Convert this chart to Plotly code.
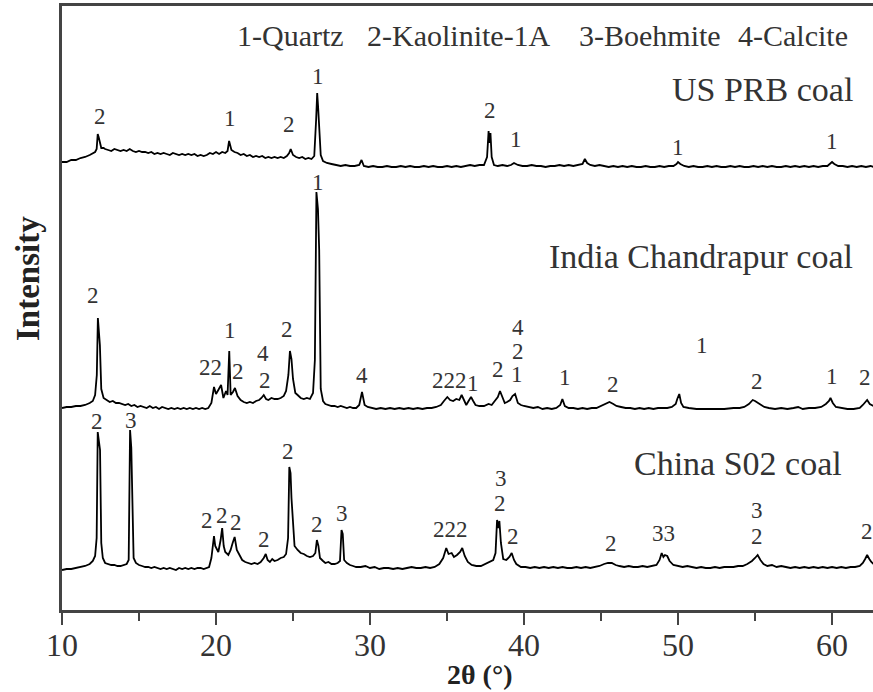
import plotly.graph_objects as go

# ---------------------------------------------------------------
# XRD patterns of three coals: (2θ in degrees, intensity in a.u.)
# Intensities are relative to each pattern's own baseline; the
# patterns are stacked with a vertical offset.
# ---------------------------------------------------------------
us_pattern = [
    (10.0, 5), (10.3, 5), (10.6, 7), (10.9, 7), (11.2, 9), (11.5, 10), (11.8, 12), (12.0, 14), (12.15, 15),
    (12.25, 18), (12.32, 33), (12.38, 30), (12.45, 24), (12.55, 19), (12.7, 19), (12.8, 18), (13.0, 17),
    (13.2, 16), (13.4, 18), (13.6, 17), (13.8, 16), (14.0, 17), (14.2, 16), (14.4, 18), (14.6, 16), (14.8, 15),
    (15.0, 16), (15.2, 15), (15.4, 15), (15.6, 14), (15.8, 15), (16.0, 13), (16.2, 14), (16.4, 13), (16.6, 14),
    (16.8, 13), (17.0, 12), (17.2, 14), (17.4, 13), (17.6, 12), (17.8, 13), (18.0, 12), (18.2, 13), (18.4, 12),
    (18.6, 13), (18.8, 11), (19.0, 12), (19.2, 11), (19.4, 12), (19.6, 14), (19.8, 13), (20.0, 15), (20.2, 13),
    (20.4, 15), (20.6, 14), (20.75, 16), (20.85, 26), (21.0, 17), (21.2, 15), (21.4, 14), (21.6, 12), (21.8, 13),
    (22.0, 11), (22.2, 12), (22.4, 10), (22.6, 11), (22.8, 10), (23.0, 11), (23.2, 9), (23.4, 10), (23.6, 9),
    (23.8, 10), (24.0, 9), (24.2, 10), (24.4, 9), (24.6, 11), (24.75, 14), (24.85, 18), (25.0, 12), (25.2, 10),
    (25.4, 9), (25.6, 10), (25.8, 8), (26.0, 9), (26.2, 8), (26.38, 11), (26.5, 47), (26.57, 74), (26.63, 60),
    (26.7, 42), (26.8, 12), (26.95, 6), (27.2, 4), (27.5, 3), (27.8, 2), (28.1, 1), (28.4, 2), (28.7, 1),
    (29.0, 1), (29.3, 2), (29.45, 7), (29.6, 1), (29.9, 0), (30.2, 1), (30.5, 0), (30.8, 0), (31.1, 1),
    (31.4, 0), (31.7, 0), (32.0, 1), (32.3, 0), (32.6, 1), (32.9, 0), (33.2, 0), (33.5, 1), (33.8, 0),
    (34.1, 1), (34.4, 0), (34.7, 0), (35.0, 1), (35.3, 0), (35.6, 1), (35.9, 0), (36.2, 1), (36.5, 2),
    (36.8, 1), (37.1, 2), (37.4, 2), (37.6, 10), (37.7, 36), (37.76, 24), (37.82, 34), (37.9, 10), (38.05, 2),
    (38.3, 1), (38.6, 2), (38.9, 1), (39.15, 2), (39.35, 4), (39.6, 2), (39.9, 1), (40.2, 1), (40.5, 2),
    (40.8, 1), (41.1, 1), (41.4, 0), (41.7, 1), (42.0, 1), (42.3, 2), (42.6, 1), (42.9, 2), (43.2, 1),
    (43.5, 2), (43.8, 3), (43.95, 8), (44.1, 4), (44.3, 2), (44.6, 1), (44.9, 2), (45.2, 1), (45.5, 0),
    (45.8, 1), (46.1, 0), (46.4, 1), (46.7, 0), (47.0, 1), (47.3, 0), (47.6, 0), (47.9, 1), (48.2, 0),
    (48.5, 0), (48.8, 1), (49.1, 0), (49.4, 1), (49.7, 1), (49.9, 3), (50.0, 5), (50.15, 3), (50.4, 1),
    (50.7, 0), (51.0, 1), (51.3, 0), (51.6, 0), (51.9, 1), (52.2, 0), (52.5, 1), (52.8, 0), (53.1, 0),
    (53.4, 1), (53.7, 0), (54.0, 1), (54.3, 0), (54.6, 0), (54.9, 1), (55.2, 0), (55.5, 1), (55.8, 0),
    (56.1, 1), (56.4, 0), (56.7, 0), (57.0, 1), (57.3, 0), (57.6, 1), (57.9, 0), (58.2, 1), (58.5, 0),
    (58.8, 1), (59.1, 0), (59.4, 1), (59.7, 1), (59.9, 4), (60.0, 5), (60.15, 3), (60.4, 1), (60.7, 1),
    (61.0, 0), (61.3, 1), (61.6, 0), (61.9, 1), (62.2, 0), (62.5, 1), (62.7, 0),
]

india_pattern = [
    (10.0, 1), (10.3, 2), (10.6, 2), (10.9, 3), (11.2, 3), (11.5, 4), (11.8, 6), (12.0, 8), (12.15, 14),
    (12.26, 34), (12.33, 91), (12.4, 75), (12.46, 64), (12.55, 20), (12.7, 11), (12.9, 9), (13.1, 7),
    (13.3, 8), (13.5, 6), (13.7, 6), (13.9, 5), (14.1, 4), (14.3, 5), (14.5, 3), (14.7, 4), (14.9, 2),
    (15.1, 3), (15.3, 2), (15.5, 1), (15.7, 3), (15.9, 1), (16.1, 2), (16.3, 0), (16.5, 2), (16.7, 1),
    (16.9, 0), (17.1, 1), (17.3, 0), (17.5, 1), (17.7, 0), (17.9, 1), (18.1, 0), (18.3, 1), (18.5, 0),
    (18.7, 1), (18.9, 0), (19.1, 1), (19.3, 0), (19.5, 1), (19.7, 6), (19.87, 22), (20.0, 15), (20.15, 19),
    (20.33, 24), (20.48, 11), (20.65, 18), (20.75, 14), (20.86, 58), (20.95, 14), (21.1, 17), (21.23, 21),
    (21.4, 13), (21.6, 9), (21.8, 7), (22.0, 6), (22.2, 7), (22.4, 6), (22.6, 8), (22.8, 9), (22.95, 11),
    (23.1, 14), (23.25, 10), (23.4, 9), (23.6, 11), (23.8, 10), (24.0, 10), (24.2, 11), (24.4, 13),
    (24.55, 18), (24.7, 34), (24.8, 58), (24.9, 50), (25.0, 30), (25.15, 16), (25.3, 14), (25.5, 11),
    (25.7, 10), (25.9, 11), (26.1, 10), (26.3, 16), (26.42, 49), (26.52, 217), (26.62, 200), (26.7, 159),
    (26.8, 20), (26.95, 8), (27.1, 5), (27.3, 4), (27.5, 3), (27.7, 3), (27.9, 2), (28.1, 3), (28.3, 2),
    (28.5, 1), (28.7, 2), (28.9, 1), (29.1, 1), (29.3, 4), (29.48, 17), (29.65, 4), (29.85, 2), (30.1, 1),
    (30.4, 0), (30.7, 1), (31.0, 0), (31.3, 1), (31.6, 0), (31.9, 1), (32.2, 0), (32.5, 1), (32.8, 0),
    (33.1, 1), (33.4, 0), (33.7, 1), (34.0, 1), (34.3, 2), (34.6, 4), (34.8, 8), (35.02, 12), (35.2, 9),
    (35.4, 8), (35.6, 10), (35.8, 9), (35.95, 14), (36.1, 8), (36.25, 4), (36.4, 8), (36.56, 12), (36.7, 8),
    (36.85, 4), (37.1, 3), (37.4, 3), (37.7, 5), (37.9, 4), (38.1, 8), (38.3, 12), (38.44, 18), (38.6, 12),
    (38.75, 6), (38.9, 7), (39.1, 9), (39.25, 13), (39.42, 15), (39.6, 6), (39.8, 4), (40.0, 3), (40.3, 2),
    (40.6, 1), (40.9, 2), (41.2, 0), (41.5, 1), (41.8, 0), (42.1, 1), (42.35, 4), (42.49, 10), (42.65, 3),
    (42.9, 1), (43.2, 1), (43.5, 0), (43.8, 1), (44.1, 0), (44.4, 1), (44.7, 1), (45.0, 3), (45.3, 5),
    (45.55, 7), (45.8, 5), (46.0, 3), (46.3, 2), (46.6, 1), (46.9, 1), (47.2, 0), (47.5, 1), (47.8, 0),
    (48.1, 1), (48.4, 0), (48.7, 1), (49.0, 1), (49.3, 1), (49.6, 2), (49.85, 5), (49.95, 10), (50.08, 15),
    (50.2, 6), (50.35, 2), (50.7, 1), (51.2, 0), (51.8, 0), (52.4, 0), (53.0, 0), (53.6, 1), (54.0, 1),
    (54.3, 2), (54.6, 5), (54.85, 9), (55.0, 8), (55.3, 5), (55.6, 2), (55.9, 1), (56.3, 0), (56.7, 1),
    (57.1, 0), (57.5, 1), (57.8, 2), (58.1, 0), (58.5, 1), (58.9, 1), (59.3, 2), (59.6, 5), (59.8, 8),
    (59.9, 11), (60.05, 6), (60.25, 2), (60.6, 1), (61.0, 0), (61.4, 0), (61.8, 1), (62.0, 4), (62.15, 7),
    (62.28, 9), (62.45, 5), (62.7, 3),
]

china_pattern = [
    (10.0, -2), (10.3, -1), (10.6, -1), (10.9, 0), (11.2, 1), (11.5, 2), (11.8, 4), (12.0, 7), (12.15, 12),
    (12.25, 30), (12.32, 136), (12.4, 125), (12.47, 118), (12.55, 25), (12.65, 10), (12.8, 5), (13.0, 4),
    (13.2, 3), (13.4, 3), (13.6, 2), (13.8, 2), (14.0, 3), (14.2, 4), (14.33, 8), (14.42, 138), (14.5, 120),
    (14.56, 60), (14.65, 10), (14.8, 5), (15.0, 3), (15.2, 2), (15.4, 1), (15.6, 1), (15.8, 0), (16.0, 1),
    (16.2, 0), (16.4, -1), (16.6, 0), (16.8, -1), (17.0, 0), (17.2, -1), (17.4, -2), (17.6, 0), (17.8, -1),
    (18.0, 0), (18.2, -1), (18.4, 0), (18.6, -1), (18.8, 0), (19.0, 0), (19.2, -1), (19.4, 0), (19.55, 1),
    (19.7, 10), (19.87, 32), (19.95, 22), (20.05, 18), (20.15, 16), (20.3, 28), (20.4, 40), (20.5, 22),
    (20.6, 16), (20.8, 13), (20.95, 18), (21.08, 25), (21.21, 31), (21.35, 18), (21.5, 14), (21.7, 8),
    (21.9, 6), (22.1, 5), (22.3, 4), (22.5, 5), (22.7, 4), (22.9, 6), (23.1, 10), (23.23, 14), (23.35, 8),
    (23.5, 6), (23.65, 9), (23.8, 7), (24.0, 8), (24.2, 10), (24.4, 11), (24.55, 14), (24.68, 30),
    (24.76, 101), (24.84, 95), (24.9, 70), (24.98, 45), (25.1, 22), (25.3, 18), (25.5, 15), (25.7, 14),
    (25.9, 12), (26.1, 11), (26.3, 12), (26.45, 15), (26.55, 28), (26.65, 22), (26.75, 10), (26.95, 7),
    (27.1, 5), (27.3, 6), (27.5, 4), (27.7, 4), (27.9, 5), (28.05, 7), (28.15, 38), (28.23, 34), (28.32, 8),
    (28.5, 5), (28.7, 3), (28.9, 2), (29.1, 1), (29.4, 1), (29.7, 2), (30.0, 0), (30.3, 1), (30.6, -1),
    (30.9, 0), (31.2, 0), (31.5, -1), (31.8, 0), (32.1, -1), (32.4, 0), (32.7, 1), (33.0, 0), (33.3, 0),
    (33.6, 1), (33.9, 0), (34.2, 1), (34.5, 4), (34.75, 10), (34.95, 20), (35.1, 14), (35.3, 15), (35.45, 11),
    (35.65, 13), (35.85, 16), (35.99, 20), (36.15, 12), (36.35, 6), (36.6, 3), (36.9, 2), (37.2, 2),
    (37.5, 4), (37.8, 6), (38.0, 8), (38.15, 15), (38.25, 48), (38.33, 40), (38.4, 47), (38.5, 25),
    (38.65, 9), (38.85, 8), (39.05, 11), (39.2, 15), (39.35, 8), (39.5, 4), (39.8, 1), (40.1, 1), (40.4, 0),
    (40.7, 1), (41.0, 0), (41.3, 1), (41.6, 0), (41.9, 1), (42.2, 0), (42.5, 1), (42.8, 0), (43.1, 0),
    (43.4, 1), (43.7, 0), (44.0, 1), (44.3, 0), (44.6, 1), (44.9, 2), (45.2, 4), (45.45, 5), (45.7, 5),
    (45.95, 3), (46.2, 2), (46.5, 1), (46.8, 2), (47.1, 1), (47.4, 1), (47.7, 2), (48.0, 1), (48.3, 2),
    (48.6, 3), (48.8, 8), (48.94, 15), (49.05, 11), (49.15, 13), (49.3, 12), (49.45, 7), (49.7, 3),
    (50.0, 2), (50.3, 1), (50.6, 2), (50.9, 1), (51.2, 0), (51.5, 1), (51.8, 0), (52.1, 0), (52.4, 1),
    (52.7, 0), (53.0, 1), (53.3, 1), (53.6, 1), (53.9, 2), (54.2, 2), (54.5, 4), (54.8, 7), (55.0, 10),
    (55.17, 13), (55.35, 8), (55.55, 4), (55.8, 2), (56.1, 3), (56.4, 1), (56.7, 2), (57.0, 1), (57.3, 0),
    (57.6, 1), (57.9, 0), (58.2, 1), (58.5, 0), (58.8, 1), (59.1, 0), (59.4, 1), (59.7, 0), (60.0, 1),
    (60.3, 0), (60.6, 1), (60.9, 0), (61.2, 1), (61.5, 1), (61.8, 2), (62.0, 5), (62.15, 9), (62.28, 13),
    (62.42, 9), (62.55, 6), (62.7, 4),
]

# vertical stacking offsets for the three patterns
offsets = {"us": 443, "india": 201, "china": 42}

# phase labels: (2θ, height above the pattern baseline, phase number)
us_labels = [(12.44, 50.5, "2"), (20.9, 48.5, "1"), (24.77, 42.5, "2"), (26.62, 91, "1"),
             (37.76, 57, "2"), (39.48, 28, "1"), (50.0, 20, "1"), (59.97, 25.5, "1")]
india_labels = [(12.03, 113.7, "2"), (19.66, 41.5, "22"), (20.93, 79, "1"), (21.4, 37.3, "2"),
                (23.08, 55.7, "4"), (23.18, 29, "2"), (24.63, 80, "2"), (26.62, 227, "1"),
                (29.46, 34, "4"), (35.19, 29, "222"), (36.69, 26, "1"), (38.28, 40, "2"),
                (39.63, 81.5, "4"), (39.59, 58, "2"), (39.55, 34.5, "1"), (42.68, 31.7, "1"),
                (45.8, 25, "2"), (51.54, 64, "1"), (55.13, 28, "2"), (60.02, 33, "1"), (62.14, 32, "2")]
china_labels = [(12.25, 146.3, "2"), (14.48, 148, "3"), (19.44, 47.5, "2"), (20.37, 53, "2"),
                (21.3, 45.7, "2"), (23.12, 29, "2"), (24.66, 116.3, "2"), (26.58, 44, "2"),
                (28.16, 54.7, "3"), (35.25, 39, "222"), (38.51, 90, "3"), (38.44, 65, "2"),
                (39.29, 31.3, "2"), (45.65, 25, "2"), (49.05, 35, "33"), (55.11, 58, "3"),
                (55.11, 32, "2"), (62.25, 36.3, "2")]

sample_names = ["US PRB coal", "India Chandrapur coal", "China S02 coal"]
phase_key = ["1-Quartz", "2-Kaolinite-1A", "3-Boehmite", "4-Calcite"]
x_ticks = [10, 20, 30, 40, 50, 60]

SERIF = "Liberation Serif"
TXT = "#333333"

fig = go.Figure()
patterns = [("us", us_pattern), ("india", india_pattern), ("china", china_pattern)]
for key, pattern in patterns:
    theta = [p[0] for p in pattern]
    inten = [p[1] + offsets[key] for p in pattern]
    fig.add_trace(go.Scatter(
        x=theta, y=inten, mode="lines",
        line=dict(color="black", width=1.8), showlegend=False, hoverinfo="skip"))

annotations = []
for key, labels in (("us", us_labels), ("india", india_labels), ("china", china_labels)):
    for th, h, txt in labels:
        annotations.append(dict(x=th, y=offsets[key] + h, xref="x", yref="y", text=txt,
                                showarrow=False, font=dict(family=SERIF, size=23, color=TXT)))

# sample names, right-aligned inside the frame
for name, (xr, yr) in zip(sample_names, [(61.49, 521), (61.49, 354), (60.78, 147)]):
    annotations.append(dict(x=xr, y=yr, xref="x", yref="y", text=name, showarrow=False,
                            xanchor="right", yanchor="middle",
                            font=dict(family=SERIF, size=34, color=TXT)))

# phase key along the top
for txt, xl in zip(phase_key, [21.23, 29.67, 43.44, 53.76]):
    annotations.append(dict(x=xl, y=575, xref="x", yref="y", text=txt, showarrow=False,
                            xanchor="left", yanchor="middle",
                            font=dict(family=SERIF, size=30, color=TXT)))

# axis titles
annotations.append(dict(x=0.5154, y=-0.1076, xref="paper", yref="paper", text="<b>2θ (°)</b>",
                        showarrow=False, xanchor="center", yanchor="middle",
                        font=dict(family=SERIF, size=28, color="#222")))
annotations.append(dict(x=-0.0419, y=0.548, xref="paper", yref="paper", text="<b>Intensity</b>",
                        showarrow=False, textangle=-90, xanchor="center", yanchor="middle",
                        font=dict(family=SERIF, size=33, color="#222")))

fig.update_layout(
    width=873, height=692,
    margin=dict(l=62, r=0, t=6, b=82),
    paper_bgcolor="white", plot_bgcolor="white",
    font=dict(family=SERIF),
    annotations=annotations,
    xaxis=dict(range=[10, 62.66], tickvals=x_ticks, ticks="outside", ticklen=12, tickwidth=2,
               tickcolor="#444", showline=True, linecolor="#444", linewidth=2.5, mirror=True,
               showgrid=False, zeroline=False, ticklabelstandoff=-7,
               minor=dict(dtick=5, tick0=10, ticks="outside", ticklen=8, tickwidth=2, tickcolor="#444"),
               tickfont=dict(family=SERIF, size=32, color=TXT)),
    yaxis=dict(range=[0, 604], showticklabels=False, ticks="", showline=True, linecolor="#444",
               linewidth=2.5, showgrid=False, zeroline=False),
)

fig.write_html("out.html")
